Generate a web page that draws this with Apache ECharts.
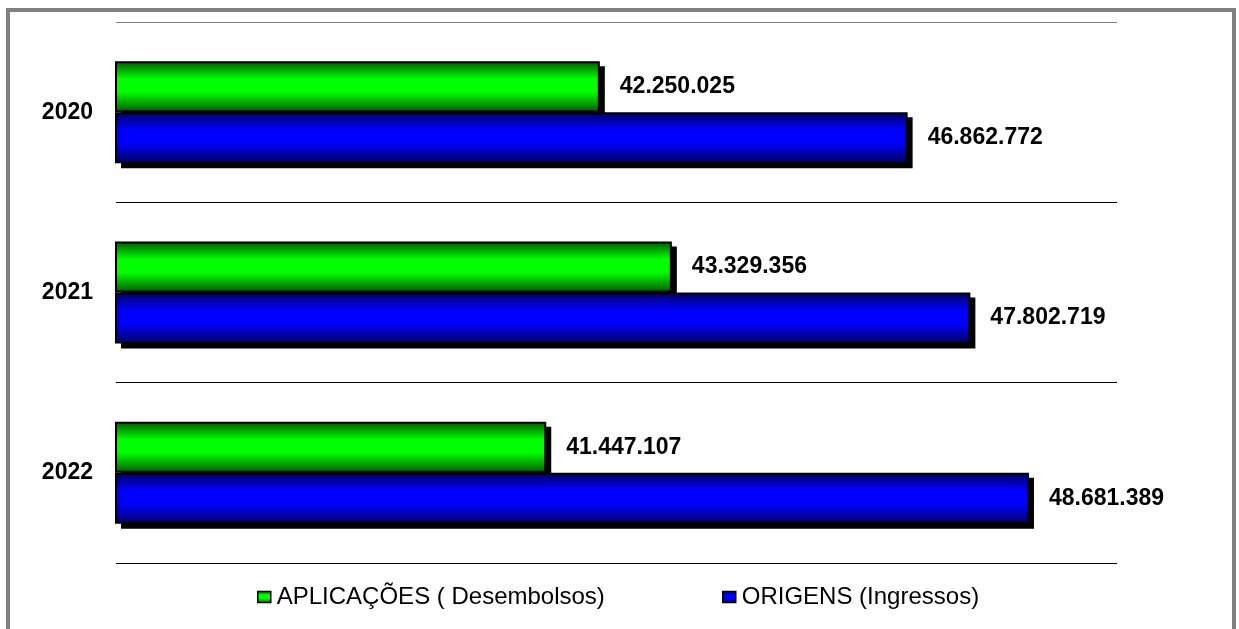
<!DOCTYPE html>
<html>
<head>
<meta charset="utf-8">
<script src="https://cdn.jsdelivr.net/npm/echarts@6/dist/echarts.min.js"></script>
<style>
html,body{margin:0;padding:0;background:#fff;}
#chart{width:1239px;height:629px;}
</style>
</head>
<body>
<div id="chart"></div>
<script>
const years = ['2020', '2021', '2022'];
const aplicacoes = [42250025, 43329356, 41447107];
const origens = [46862772, 47802719, 48681389];
const seriesNames = ['APLICAÇÕES ( Desembolsos)', 'ORIGENS (Ingressos)'];
const xMin = 35000000;
const xMax = 50000000;

function fmt(v) {
  return String(v).replace(/\B(?=(\d{3})+(?!\d))/g, '.');
}
function grad(dark, bright) {
  return new echarts.graphic.LinearGradient(0, 0, 0, 1, [
    { offset: 0, color: dark },
    { offset: 0.35, color: bright },
    { offset: 0.6, color: bright },
    { offset: 1, color: dark }
  ]);
}
const FONT = 'Arial, "Liberation Sans", sans-serif';
const BAR_W = 51;
const chart = echarts.init(document.getElementById('chart'), null, { renderer: 'canvas' });

// shadow data built from the series arrays: [value, categoryIndex, seriesIndex]
const shadowData = [];
years.forEach((y, i) => {
  shadowData.push([aplicacoes[i], i, 0]);
  shadowData.push([origens[i], i, 1]);
});

const labelCfg = {
  show: true,
  position: 'right',
  distance: 20,
  color: '#000',
  fontFamily: FONT,
  fontWeight: 'bold',
  fontSize: 23,
  formatter: p => fmt(p.value)
};
const barItem = (dark, bright) => ({
  color: grad(dark, bright),
  borderColor: '#000',
  borderWidth: 2
});
const legendBase = {
  orient: 'horizontal',
  top: 585,
  padding: 0,
  itemWidth: 13,
  itemHeight: 11,
  itemGap: 4,
  icon: 'rect',
  selectedMode: false,
  textStyle: { fontFamily: FONT, fontSize: 24, color: '#000', padding: [0, 0, 0, 1] },
  itemStyle: { borderColor: '#000', borderWidth: 1.5 }
};

chart.setOption({
  animation: false,
  backgroundColor: '#fff',
  grid: { left: 116, right: 122, top: 22, bottom: 66, containLabel: false },
  xAxis: {
    type: 'value',
    min: xMin,
    max: xMax,
    show: false
  },
  yAxis: {
    type: 'category',
    data: years,
    inverse: true,
    axisLine: { show: false },
    axisTick: { show: false },
    axisLabel: { color: '#000', fontFamily: FONT, fontWeight: 'bold', fontSize: 23, margin: 23 },
    splitLine: { show: true, lineStyle: { color: ['#808080', '#000', '#000', '#000'], width: 1.2 } }
  },
  legend: [
    Object.assign({}, legendBase, { left: 257, data: [seriesNames[0]] }),
    Object.assign({}, legendBase, { left: 722, data: [seriesNames[1]] })
  ],
  graphic: [{
    type: 'rect',
    shape: { x: 8, y: 10, width: 1226, height: 660 },
    style: { fill: 'none', stroke: '#808080', lineWidth: 4 },
    silent: true
  }],
  series: [
    {
      type: 'custom',
      z: 1,
      silent: true,
      encode: { x: 0, y: 1 },
      data: shadowData,
      renderItem: function (params, api) {
        const val = api.value(0);
        const cat = api.value(1);
        const s = api.value(2);
        const p0 = api.coord([xMin, cat]);
        const p1 = api.coord([val, cat]);
        const top = p0[1] - BAR_W + s * BAR_W;
        return {
          type: 'rect',
          shape: { x: p0[0] + 5, y: top + 5, width: p1[0] - p0[0], height: BAR_W },
          style: { fill: '#000' }
        };
      }
    },
    {
      name: seriesNames[0],
      type: 'bar',
      z: 2,
      data: aplicacoes,
      barWidth: BAR_W,
      barGap: '0%',
      itemStyle: barItem('#005800', '#00ff00'),
      label: labelCfg,
      emphasis: { disabled: true }
    },
    {
      name: seriesNames[1],
      type: 'bar',
      z: 2,
      data: origens,
      barWidth: BAR_W,
      barGap: '0%',
      itemStyle: barItem('#000060', '#0000ff'),
      label: labelCfg,
      emphasis: { disabled: true }
    }
  ]
});
</script>
</body>
</html>
